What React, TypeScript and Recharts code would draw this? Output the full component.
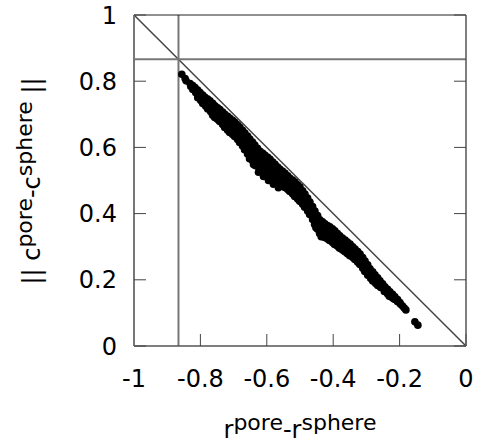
import React from 'react';
import { ScatterChart, Scatter, XAxis, YAxis, ReferenceLine, Label } from 'recharts';

const xTicks = [-1, -0.8, -0.6, -0.4, -0.2, 0];
const yTicks = [0, 0.2, 0.4, 0.6, 0.8, 1];
const crossLevel = 0.866;
const diagonal = [{ x: -1, y: 1 }, { x: 0, y: 0 }];

const points: [number, number][] = [
  [-0.856, 0.821],
  [-0.846, 0.808], [-0.843, 0.801],
  [-0.831, 0.793], [-0.829, 0.784],
  [-0.816, 0.781], [-0.814, 0.765],
  [-0.801, 0.766], [-0.803, 0.754], [-0.799, 0.742],
  [-0.786, 0.751], [-0.788, 0.738], [-0.784, 0.724],
  [-0.771, 0.741], [-0.773, 0.726], [-0.769, 0.708],
  [-0.756, 0.726], [-0.758, 0.714], [-0.754, 0.702], [-0.757, 0.690],
  [-0.741, 0.714], [-0.743, 0.702], [-0.739, 0.690], [-0.742, 0.678],
  [-0.726, 0.700], [-0.728, 0.687], [-0.724, 0.673], [-0.727, 0.660],
  [-0.711, 0.688], [-0.713, 0.675], [-0.709, 0.660], [-0.712, 0.645],
  [-0.696, 0.676], [-0.698, 0.663], [-0.694, 0.648], [-0.697, 0.633],
  [-0.681, 0.661], [-0.683, 0.648], [-0.679, 0.633], [-0.682, 0.615],
  [-0.666, 0.643], [-0.668, 0.630], [-0.664, 0.615], [-0.667, 0.593],
  [-0.651, 0.625], [-0.653, 0.609], [-0.649, 0.591], [-0.652, 0.566],
  [-0.636, 0.607], [-0.638, 0.591], [-0.634, 0.573], [-0.637, 0.554], [-0.635, 0.545],
  [-0.620, 0.588], [-0.622, 0.572], [-0.618, 0.554], [-0.621, 0.532],
  [-0.605, 0.576], [-0.607, 0.560], [-0.603, 0.542], [-0.606, 0.520],
  [-0.590, 0.564], [-0.592, 0.548], [-0.588, 0.530], [-0.591, 0.511],
  [-0.575, 0.549], [-0.577, 0.536], [-0.573, 0.521], [-0.576, 0.502],
  [-0.560, 0.534], [-0.562, 0.521], [-0.558, 0.506], [-0.561, 0.491],
  [-0.545, 0.522], [-0.547, 0.509], [-0.543, 0.494], [-0.546, 0.479],
  [-0.530, 0.507], [-0.532, 0.494], [-0.528, 0.479], [-0.531, 0.467],
  [-0.515, 0.495], [-0.517, 0.482], [-0.513, 0.467], [-0.516, 0.452],
  [-0.500, 0.480], [-0.502, 0.467], [-0.498, 0.452], [-0.501, 0.437],
  [-0.485, 0.459], [-0.487, 0.446], [-0.483, 0.431], [-0.486, 0.419],
  [-0.470, 0.435], [-0.472, 0.422], [-0.468, 0.410], [-0.471, 0.397],
  [-0.455, 0.408], [-0.457, 0.395], [-0.453, 0.379], [-0.456, 0.367],
  [-0.440, 0.381], [-0.442, 0.367], [-0.438, 0.352], [-0.441, 0.340],
  [-0.425, 0.369], [-0.427, 0.355], [-0.423, 0.340], [-0.426, 0.328],
  [-0.410, 0.360], [-0.412, 0.347], [-0.408, 0.331], [-0.411, 0.319],
  [-0.395, 0.348], [-0.397, 0.335], [-0.393, 0.319], [-0.396, 0.307],
  [-0.380, 0.333], [-0.382, 0.320], [-0.378, 0.307], [-0.381, 0.295],
  [-0.364, 0.320], [-0.366, 0.307], [-0.362, 0.295], [-0.365, 0.285],
  [-0.349, 0.308], [-0.351, 0.295], [-0.347, 0.283], [-0.350, 0.273],
  [-0.334, 0.293], [-0.336, 0.280], [-0.332, 0.271], [-0.335, 0.261],
  [-0.319, 0.278], [-0.321, 0.265], [-0.317, 0.256], [-0.320, 0.246],
  [-0.304, 0.257], [-0.306, 0.244], [-0.302, 0.235], [-0.305, 0.225],
  [-0.289, 0.233], [-0.291, 0.219], [-0.287, 0.204],
  [-0.274, 0.215], [-0.276, 0.201], [-0.272, 0.189],
  [-0.259, 0.197], [-0.261, 0.187], [-0.257, 0.177],
  [-0.244, 0.179], [-0.246, 0.165],
  [-0.229, 0.164], [-0.231, 0.150],
  [-0.214, 0.149], [-0.216, 0.141],
  [-0.199, 0.131], [-0.197, 0.126],
  [-0.186, 0.115], [-0.181, 0.109],
  [-0.154, 0.073], [-0.145, 0.063],
];

const fillPoints: [number, number][] = [
  [-0.823, 0.787], [-0.823, 0.775],
  [-0.808, 0.773], [-0.808, 0.760], [-0.808, 0.750],
  [-0.793, 0.758], [-0.793, 0.746], [-0.793, 0.733],
  [-0.778, 0.746], [-0.778, 0.732], [-0.778, 0.716],
  [-0.763, 0.733], [-0.763, 0.720], [-0.763, 0.706], [-0.763, 0.697],
  [-0.748, 0.720], [-0.748, 0.708], [-0.748, 0.696], [-0.748, 0.684],
  [-0.733, 0.707], [-0.733, 0.694], [-0.733, 0.681], [-0.733, 0.669],
  [-0.718, 0.694], [-0.718, 0.681], [-0.718, 0.667], [-0.718, 0.652],
  [-0.703, 0.682], [-0.703, 0.669], [-0.703, 0.654], [-0.703, 0.639],
  [-0.688, 0.668], [-0.688, 0.655], [-0.688, 0.640], [-0.688, 0.624],
  [-0.673, 0.652], [-0.673, 0.639], [-0.673, 0.624], [-0.673, 0.604],
  [-0.658, 0.634], [-0.658, 0.620], [-0.658, 0.603], [-0.658, 0.580],
  [-0.643, 0.616], [-0.643, 0.600], [-0.643, 0.582], [-0.643, 0.560],
  [-0.628, 0.597], [-0.628, 0.581], [-0.628, 0.563], [-0.628, 0.543],
  [-0.612, 0.582], [-0.612, 0.566], [-0.612, 0.548], [-0.612, 0.526],
  [-0.597, 0.570], [-0.597, 0.554], [-0.597, 0.536], [-0.597, 0.515],
  [-0.582, 0.556], [-0.582, 0.542], [-0.582, 0.525], [-0.582, 0.506],
  [-0.567, 0.541], [-0.567, 0.528], [-0.567, 0.513], [-0.567, 0.496],
  [-0.552, 0.528], [-0.552, 0.515], [-0.552, 0.500], [-0.552, 0.485],
  [-0.537, 0.514], [-0.537, 0.501], [-0.537, 0.486], [-0.537, 0.473],
  [-0.522, 0.501], [-0.522, 0.488], [-0.522, 0.473], [-0.522, 0.459],
  [-0.507, 0.487], [-0.507, 0.474], [-0.507, 0.459], [-0.507, 0.444],
  [-0.492, 0.469], [-0.492, 0.456], [-0.492, 0.441], [-0.492, 0.428],
  [-0.477, 0.447], [-0.477, 0.434], [-0.477, 0.420], [-0.477, 0.408],
  [-0.462, 0.421], [-0.462, 0.408], [-0.462, 0.394], [-0.462, 0.382],
  [-0.447, 0.394], [-0.447, 0.381], [-0.447, 0.365], [-0.447, 0.353],
  [-0.432, 0.375], [-0.432, 0.361], [-0.432, 0.346], [-0.432, 0.334],
  [-0.417, 0.364], [-0.417, 0.351], [-0.417, 0.335], [-0.417, 0.323],
  [-0.402, 0.354], [-0.402, 0.341], [-0.402, 0.325], [-0.402, 0.313],
  [-0.387, 0.340], [-0.387, 0.327], [-0.387, 0.313], [-0.387, 0.301],
  [-0.372, 0.326], [-0.372, 0.313], [-0.372, 0.301], [-0.372, 0.290],
  [-0.357, 0.314], [-0.357, 0.301], [-0.357, 0.289], [-0.357, 0.279],
  [-0.341, 0.300], [-0.341, 0.287], [-0.341, 0.277], [-0.341, 0.267],
  [-0.326, 0.285], [-0.326, 0.272], [-0.326, 0.263], [-0.326, 0.253],
  [-0.311, 0.267], [-0.311, 0.254], [-0.311, 0.245], [-0.311, 0.235],
  [-0.296, 0.245], [-0.296, 0.231], [-0.296, 0.214],
  [-0.281, 0.224], [-0.281, 0.210], [-0.281, 0.196],
  [-0.266, 0.206], [-0.266, 0.194], [-0.266, 0.183],
  [-0.251, 0.188], [-0.251, 0.176],
  [-0.236, 0.171], [-0.236, 0.157],
  [-0.221, 0.156], [-0.221, 0.145],
  [-0.206, 0.140], [-0.206, 0.134],
  [-0.191, 0.121],
];

const lowerEdgePoints: [number, number][] = [
  [-0.640, 0.548], [-0.625, 0.525], [-0.610, 0.512], [-0.595, 0.500],
  [-0.580, 0.489], [-0.565, 0.478], [-0.452, 0.357], [-0.436, 0.330],
];

const data = [...points, ...fillPoints, ...lowerEdgePoints].map(([x, y]) => ({ x, y }));

const FONT = '"DejaVu Sans", sans-serif';

const Dot = (props: any) => <circle cx={props.cx} cy={props.cy} r={3.8} fill="#000" />;
const NoTick = () => <g />;

const XTitle = () => (
  <text x={300} y={438} textAnchor="middle" fontFamily={FONT} fontSize={24} fill="#000" style={{ whiteSpace: 'pre' }}>
    <tspan>r</tspan>
    <tspan dy={-8} fontSize={22}>pore</tspan>
    <tspan dy={8}>-r</tspan>
    <tspan dy={-8} fontSize={22}>sphere</tspan>
  </text>
);

const YTitle = () => (
  <text x={40} y={181} transform="rotate(-90 40 181)" textAnchor="middle" fontFamily={FONT} fontSize={24} fill="#000" style={{ whiteSpace: 'pre' }}>
    <tspan>|| c</tspan>
    <tspan dy={-8} fontSize={22}>pore</tspan>
    <tspan dy={8}>-c</tspan>
    <tspan dy={-8} fontSize={22}>sphere</tspan>
    <tspan dy={8}> ||</tspan>
  </text>
);

export default function App() {
  const tickStyle = { fill: '#000', fontSize: 24, fontFamily: FONT };
  return (
    <div style={{ position: 'absolute', left: 0, top: 0, width: 477, height: 443, background: '#fff' }}>
      <ScatterChart width={477} height={443} margin={{ top: 5, right: 1, bottom: 37, left: 74 }}>
        <XAxis
          dataKey="x"
          type="number"
          domain={[-1, 0]}
          ticks={xTicks}
          interval={0}
          allowDataOverflow
          height={60}
          tickSize={-12}
          tickMargin={36}
          axisLine={{ stroke: '#555', strokeWidth: 1.5 }}
          tickLine={{ stroke: '#444' }}
          tick={tickStyle}
        >
          <Label content={XTitle} />
        </XAxis>
        <XAxis
          xAxisId="top"
          orientation="top"
          type="number"
          domain={[-1, 0]}
          ticks={xTicks}
          interval={0}
          allowDataOverflow
          height={10}
          tickSize={-12}
          axisLine={{ stroke: '#222', strokeWidth: 1.2 }}
          tickLine={{ stroke: '#444' }}
          tick={NoTick}
        />
        <YAxis
          dataKey="y"
          type="number"
          domain={[0, 1]}
          ticks={yTicks}
          interval={0}
          allowDataOverflow
          width={60}
          tickSize={-12}
          tickMargin={29}
          axisLine={{ stroke: '#777', strokeWidth: 2 }}
          tickLine={{ stroke: '#444' }}
          tick={tickStyle}
        >
          <Label content={YTitle} />
        </YAxis>
        <YAxis
          yAxisId="right"
          orientation="right"
          type="number"
          domain={[0, 1]}
          ticks={yTicks}
          interval={0}
          allowDataOverflow
          width={10}
          tickSize={-12}
          axisLine={{ stroke: '#555', strokeWidth: 1.5 }}
          tickLine={{ stroke: '#444' }}
          tick={NoTick}
        />
        <ReferenceLine segment={diagonal} stroke="#444" strokeWidth={1.5} ifOverflow="visible" />
        <ReferenceLine x={-crossLevel} stroke="#777" strokeWidth={2} ifOverflow="visible" />
        <ReferenceLine y={crossLevel} stroke="#777" strokeWidth={2} ifOverflow="visible" />
        <Scatter data={data} dataKey="y" fill="#000" shape={Dot} isAnimationActive={false} />
      </ScatterChart>
    </div>
  );
}
